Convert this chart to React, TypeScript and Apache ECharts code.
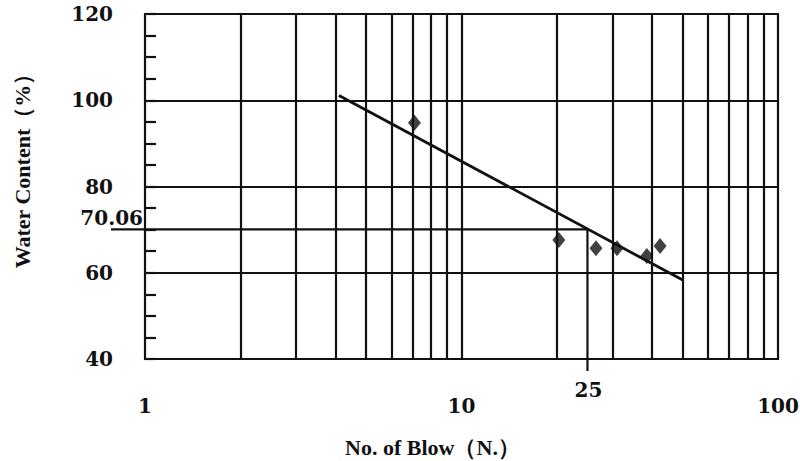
import React, { useEffect, useRef } from "react";
import * as echarts from "echarts";

// ---- data ----
const blowCounts = [7.1, 20.3, 26.6, 31, 38.5, 42.4];
const waterContents = [94.8, 67.6, 65.7, 65.7, 63.9, 66.2];
const fitBlows = [4.1, 50];
const fitWater = [101.1, 58.3];
const minorBlowLines = [2, 3, 4, 5, 6, 7, 8, 9, 20, 30, 40, 50, 60, 70, 80, 90];
const liquidLimitBlows = 25;
const liquidLimit = 70.06;
const xMin = 1;
const xMax = 100;
const yMin = 40;
const yMax = 120;
const yStep = 20;
const xTitle = "No. of Blow（N.）";
const yTitle = "Water Content（%）";

const INK = "#111";

export default function App() {
  const ref = useRef<HTMLDivElement>(null);
  useEffect(() => {
    const chart = echarts.init(ref.current!, null, { renderer: "svg" });
    const numFont = { fontFamily: "DejaVu Serif", fontWeight: "bold", fontSize: 20, color: INK };
    const titleFont = { fontFamily: "Liberation Serif", fontWeight: "bold", fontSize: 22, color: INK };
    chart.setOption({
      animation: false,
      backgroundColor: "#fff",
      grid: {
        left: 145, right: 22, top: 14, bottom: 102,
        show: true, borderColor: INK, borderWidth: 2,
        containLabel: false, outerBoundsMode: "none",
      },
      xAxis: {
        type: "log", logBase: 10, min: xMin, max: xMax,
        axisLine: { show: false },
        axisTick: { show: false },
        axisLabel: { ...numFont, margin: 37 },
        splitLine: { show: true, lineStyle: { color: INK, width: 2.2 } },
        name: xTitle, nameLocation: "middle", nameGap: 77,
        nameTextStyle: { ...titleFont, padding: [0, 58, 0, 0] },
      },
      yAxis: {
        type: "value", min: yMin, max: yMax, interval: yStep,
        axisLine: { show: false },
        axisTick: { show: true, inside: true, length: 11, lineStyle: { color: INK, width: 2.2 } },
        minorTick: { show: true, splitNumber: 4, length: 11, lineStyle: { color: INK, width: 2.2 } },
        axisLabel: { ...numFont, margin: 32 },
        splitLine: { show: true, lineStyle: { color: INK, width: 2.2 } },
        name: yTitle, nameLocation: "middle", nameRotate: 90, nameGap: 112,
        nameTextStyle: { ...titleFont, padding: [0, 0, 0, 42] },
      },
      series: [
        {
          type: "scatter",
          data: blowCounts.map((n, i) => [n, waterContents[i]]),
          symbol: "diamond",
          symbolSize: [13, 16],
          itemStyle: { color: INK },
          z: 4,
          markLine: {
            silent: true,
            symbol: "none",
            label: { show: false },
            lineStyle: { color: INK, width: 2.2, type: "solid" },
            data: minorBlowLines.map((v) => ({ xAxis: v })),
          },
        },
        {
          type: "line",
          data: fitBlows.map((n, i) => [n, fitWater[i]]),
          symbol: "none",
          lineStyle: { color: INK, width: 2.8 },
          z: 3,
        },
      ],
    });

    const p = (x: number, y: number) => chart.convertToPixel({ seriesIndex: 0 }, [x, y]) as number[];
    const [ax] = p(xMin, liquidLimit);
    const [lx, ly] = p(liquidLimitBlows, liquidLimit);
    const [, by] = p(liquidLimitBlows, yMin);
    const txt = (text: string, x: number, y: number, align: string) => ({
      type: "text",
      x, y,
      silent: true,
      style: {
        text, fill: INK,
        font: 'bold 20px "DejaVu Serif"',
        textAlign: align, align,
        textVerticalAlign: "middle", verticalAlign: "middle",
      },
    });
    chart.setOption({
      graphic: [
        { type: "line", silent: true, shape: { x1: ax - 34, y1: ly, x2: lx, y2: ly }, style: { stroke: INK, lineWidth: 2.2 } },
        { type: "line", silent: true, shape: { x1: lx, y1: ly, x2: lx, y2: by + 12 }, style: { stroke: INK, lineWidth: 2.2 } },
        txt(liquidLimit.toFixed(2), ax - 2, ly - 11, "right"),
        txt(String(liquidLimitBlows), lx + 1, by + 31, "center"),
      ],
    });

    return () => chart.dispose();
  }, []);
  return <div ref={ref} style={{ width: 800, height: 461, position: "fixed", left: 0, top: 0 }} />;
}
